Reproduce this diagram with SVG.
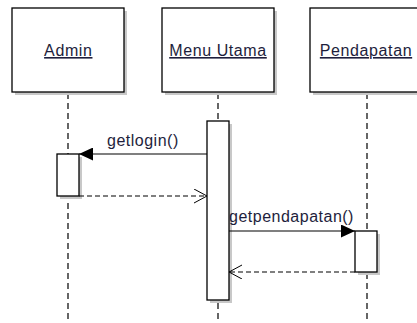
<svg xmlns="http://www.w3.org/2000/svg" width="417" height="323" viewBox="0 0 417 323">
  <style>
    .box { fill: #ffffff; stroke: #000000; stroke-width: 1.3; }
    .shadow { fill: #c8c8c8; }
    .life { stroke: #000000; stroke-width: 1.2; stroke-dasharray: 6 4; fill: none; }
    .msg { stroke: #000000; stroke-width: 1.2; fill: none; }
    .ret { stroke: #000000; stroke-width: 1.2; stroke-dasharray: 5 3; fill: none; }
    .name { font-family: "Liberation Sans", Arial, sans-serif; font-size: 16px; letter-spacing: 0.6px; fill: #1e1e3c; text-anchor: middle; text-decoration: underline; }
    .label { font-family: "Liberation Sans", Arial, sans-serif; font-size: 16px; letter-spacing: 0.5px; fill: #1e1e3c; }
  </style>
  <defs>
    <marker id="solidHead" markerWidth="14" markerHeight="13" refX="14" refY="6.5" orient="auto" markerUnits="userSpaceOnUse">
      <path d="M0,0 L14,6.5 L0,13 Z" fill="#000000"/>
    </marker>
    <marker id="openHead" markerWidth="14" markerHeight="15" refX="13" refY="7" orient="auto" markerUnits="userSpaceOnUse">
      <path d="M0,0 L13,7 L0,14" fill="none" stroke="#000000" stroke-width="1"/>
    </marker>
  </defs>
  <rect width="417" height="323" fill="#ffffff"/>

  <!-- lifelines -->
  <g id="lifelines">
    <line class="life" x1="68" y1="93" x2="68" y2="323"/>
    <line class="life" x1="218" y1="93" x2="218" y2="323"/>
    <line class="life" x1="367" y1="93" x2="367" y2="323"/>
  </g>

  <g id="admin">
    <rect class="shadow" x="15" y="11" width="112" height="84"/>
    <rect class="box" x="12" y="8" width="112" height="84"/>
    <text class="name" x="68.3" y="56">Admin</text>
  </g>

  <g id="menu-utama">
    <rect class="shadow" x="165" y="11" width="112" height="84"/>
    <rect class="box" x="162" y="8" width="112" height="84"/>
    <text class="name" x="218" y="56">Menu Utama</text>
  </g>

  <g id="pendapatan">
    <rect class="shadow" x="313" y="11" width="112" height="84"/>
    <rect class="box" x="310" y="8" width="112" height="84"/>
    <text class="name" x="366" y="56">Pendapatan</text>
  </g>

  <!-- activation bars -->
  <g id="menu-utama-activation">
    <rect class="shadow" x="210" y="124" width="22" height="179"/>
    <rect class="box" x="207" y="121" width="22" height="179"/>
  </g>
  <g id="admin-activation">
    <rect class="shadow" x="60" y="157" width="22" height="42"/>
    <rect class="box" x="57" y="154" width="22" height="42"/>
  </g>
  <g id="pendapatan-activation">
    <rect class="shadow" x="358" y="234" width="22" height="41"/>
    <rect class="box" x="355" y="231" width="22" height="41"/>
  </g>

  <g id="connectors">
    <line class="msg" x1="207" y1="154" x2="79" y2="154" marker-end="url(#solidHead)"/>
    <text class="label" x="107" y="146">getlogin()</text>
    <line class="ret" x1="79" y1="196" x2="207" y2="196" marker-end="url(#openHead)"/>
    <line class="msg" x1="229" y1="231" x2="355" y2="231" marker-end="url(#solidHead)"/>
    <text class="label" x="229" y="222">getpendapatan()</text>
    <line class="ret" x1="355" y1="272" x2="229" y2="272" marker-end="url(#openHead)"/>
  </g>
</svg>
